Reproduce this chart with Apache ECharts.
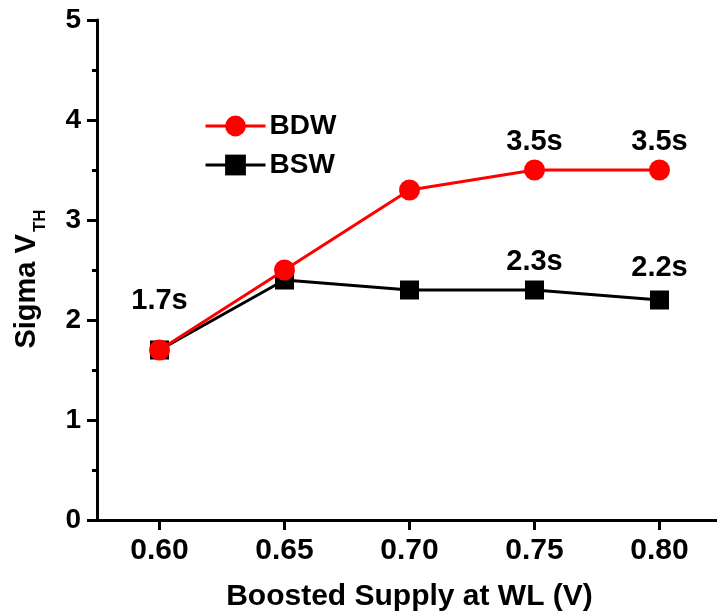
<!DOCTYPE html>
<html>
<head>
<meta charset="utf-8">
<script src="https://cdn.jsdelivr.net/npm/echarts@6/dist/echarts.min.js"></script>
<style>
  html, body { margin: 0; padding: 0; background: #fff; }
  #chart { width: 717px; height: 615px; }
</style>
</head>
<body>
<div id="chart"></div>
<script>
// Boosted word-line supply voltages (V)
const supplyLevels = ['0.60', '0.65', '0.70', '0.75', '0.80'];
// Sigma V_TH reached with each scheme
const bdwSigma = [1.7, 2.5, 3.3, 3.5, 3.5];
const bswSigma = [1.7, 2.4, 2.3, 2.3, 2.2];
// Points whose sigma value is written next to the marker
const bdwLabelled = [3, 4];
const bswLabelled = [0, 3, 4];
const yTicks = [0, 1, 2, 3, 4, 5];

const FONT = '"Liberation Sans", Arial, sans-serif';

function withLabels(values, labelled, dist) {
  return values.map((v, i) => {
    const item = { value: v };
    if (labelled.includes(i)) {
      item.label = {
        show: true,
        position: 'top',
        distance: typeof dist === 'function' ? dist(i) : dist,
        formatter: (p) => p.value.toFixed(1) + 's',
        fontFamily: FONT,
        fontWeight: 'bold',
        fontSize: 29,
        color: '#000'
      };
    }
    return item;
  });
}

const chart = echarts.init(document.getElementById('chart'), null, { renderer: 'canvas' });

chart.setOption({
  animation: false,
  backgroundColor: '#fff',
  grid: { left: 97, top: 20, width: 625, bottom: 95, containLabel: false, outerBoundsMode: 'none' },
  legend: {
    orient: 'vertical',
    left: 199,
    top: 107,
    itemWidth: 60,
    itemHeight: 26,
    itemGap: 11,
    data: ['BDW', 'BSW'],
    lineStyle: { width: 3 },
    textStyle: { fontFamily: FONT, fontWeight: 'bold', fontSize: 28, color: '#000', padding: [0, 0, 0, -1] }
  },
  xAxis: {
    type: 'category',
    data: supplyLevels,
    boundaryGap: true,
    name: 'Boosted Supply at WL (V)',
    nameLocation: 'middle',
    nameGap: 62,
    nameTextStyle: { fontFamily: FONT, fontWeight: 'bold', fontSize: 30, color: '#000' },
    axisLine: { show: true, lineStyle: { color: '#000', width: 3 } },
    axisTick: { show: true, alignWithLabel: true, length: 10, inside: false, lineStyle: { color: '#000', width: 3 } },
    axisLabel: { margin: 16, fontFamily: FONT, fontWeight: 'bold', fontSize: 30, color: '#000' },
    splitLine: { show: false }
  },
  yAxis: {
    type: 'value',
    min: yTicks[0],
    max: yTicks[yTicks.length - 1],
    interval: 1,
    name: '{a|Sigma V}{b|TH}',
    nameLocation: 'middle',
    nameGap: 56,
    nameRotate: 90,
    nameTextStyle: {
      padding: [0, 18, 0, 0],
      rich: {
        a: { fontFamily: FONT, fontWeight: 'bold', fontSize: 29, color: '#000', verticalAlign: 'bottom', lineHeight: 32 },
        b: { fontFamily: FONT, fontWeight: 'bold', fontSize: 17, color: '#000', verticalAlign: 'bottom', lineHeight: 32, padding: [0, 0, -8, 2] }
      }
    },
    axisLine: { show: true, lineStyle: { color: '#000', width: 3 } },
    axisTick: { show: true, length: 10, inside: false, lineStyle: { color: '#000', width: 3 } },
    minorTick: { show: true, splitNumber: 2, length: 5, lineStyle: { color: '#000', width: 3 } },
    axisLabel: { margin: 16, fontFamily: FONT, fontWeight: 'bold', fontSize: 28, color: '#000' },
    splitLine: { show: false },
    minorSplitLine: { show: false }
  },
  series: [
    {
      name: 'BSW',
      type: 'line',
      z: 2,
      data: withLabels(bswSigma, bswLabelled, (i) => (i === 0 ? 25 : (i === 3 ? 4 : 8))),
      symbol: 'rect',
      symbolSize: 19,
      color: '#000',
      lineStyle: { color: '#000', width: 3 },
      itemStyle: { color: '#000' }
    },
    {
      name: 'BDW',
      type: 'line',
      z: 3,
      data: withLabels(bdwSigma, bdwLabelled, 3),
      symbol: 'circle',
      symbolSize: 21,
      color: '#ff0000',
      lineStyle: { color: '#ff0000', width: 3 },
      itemStyle: { color: '#ff0000' }
    }
  ]
});
</script>
</body>
</html>
